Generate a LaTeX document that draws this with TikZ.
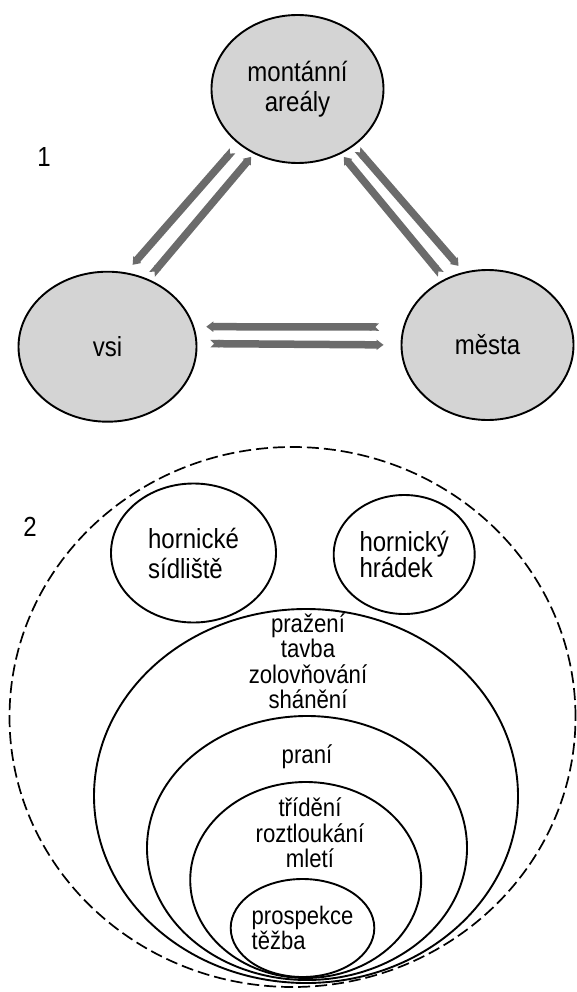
\documentclass[tikz,border=0pt]{standalone}
\usepackage{fontspec}
\setmainfont{Liberation Sans}[FakeStretch=0.87]
\usetikzlibrary{arrows.meta, shapes.geometric}
\definecolor{zonegray}{gray}{0.83}
\definecolor{ribbongray}{gray}{0.42}
\lineskiplimit=-100pt

\begin{document}
\begin{tikzpicture}[x=1pt, y=-1pt,
  zone/.style={ellipse, draw, line width=1.9pt, fill=zonegray, inner sep=0pt, align=center, font=\fontsize{27.6}{30}\selectfont},
  stage/.style={ellipse, draw, line width=1.9pt, inner sep=0pt},
  ribbon/.style={ribbongray, line width=7.5pt, {Triangle Cap[reversed]}-{Triangle[length=7pt, width=10pt]}},
  steps/.style={align=center, inner sep=0pt, font=\fontsize{25.5}{25.5}\selectfont},
  tag/.style={font=\fontsize{27.6}{24}\selectfont, inner sep=0pt}
]
\useasboundingbox (0,0) rectangle (576,992);
% 1: links between the settlements
\node[zone, minimum width=172pt, minimum height=148pt] (mont) at (297.5,89) {montánní\\areály};
\node[zone, minimum width=178pt, minimum height=150pt] (vsi) at (107.5,346.7) {vsi};
\node[zone, minimum width=172pt, minimum height=150pt] (mesta) at (487.5,345) {města};
\node[tag] (lbl1) at (44,157) {1};
\foreach \from/\fa/\to/\ta/\sa/\sb in {mont/223/vsi/76/9/10, vsi/59/mont/236/6/4, mesta/123/mont/304/6/4, mont/315/mesta/108/5/8, mesta/168/vsi/13/24/12, vsi/2/mesta/180/13/17} {
  \draw[ribbon, shorten <=\sa pt, shorten >=\sb pt] (\from.\fa) -- (\to.\ta);
}

% 2: zones of the mining area
\node[ellipse, draw, dash pattern=on 12pt off 5pt, line width=1.7pt, minimum width=566pt, minimum height=540pt] (area) at (292.5,717) {};
\node[stage, minimum width=424pt, minimum height=374pt] (smelt) at (306,796) {};
\node[stage, minimum width=320pt, minimum height=264pt] (wash) at (307,848) {};
\node[stage, minimum width=231pt, minimum height=196pt] (crush) at (305.7,880) {};
\node[stage, minimum width=122pt, minimum height=98pt, align=left, font=\fontsize{25.3}{25}\selectfont] (mine) at (302.5,928) {prospekce\\těžba};
\node[stage, minimum width=165pt, minimum height=139pt, align=left, font=\fontsize{27.6}{30}\selectfont] (camp) at (193.5,553) {hornické\\sídliště};
\node[stage, minimum width=141pt, minimum height=119pt, align=left, font=\fontsize{27.6}{26.7}\selectfont] (fort) at (404.2,554.5) {hornický\\hrádek};
\node[steps] (smelttext) at (308,661) {pražení\\tavba\\zolovňování\\shánění};
\node[steps] (washtext) at (307,757) {praní};
\node[steps] (crushtext) at (310,833) {třídění\\roztloukání\\mletí};
\node[tag] (lbl2) at (30,527) {2};
\end{tikzpicture}
\end{document}
